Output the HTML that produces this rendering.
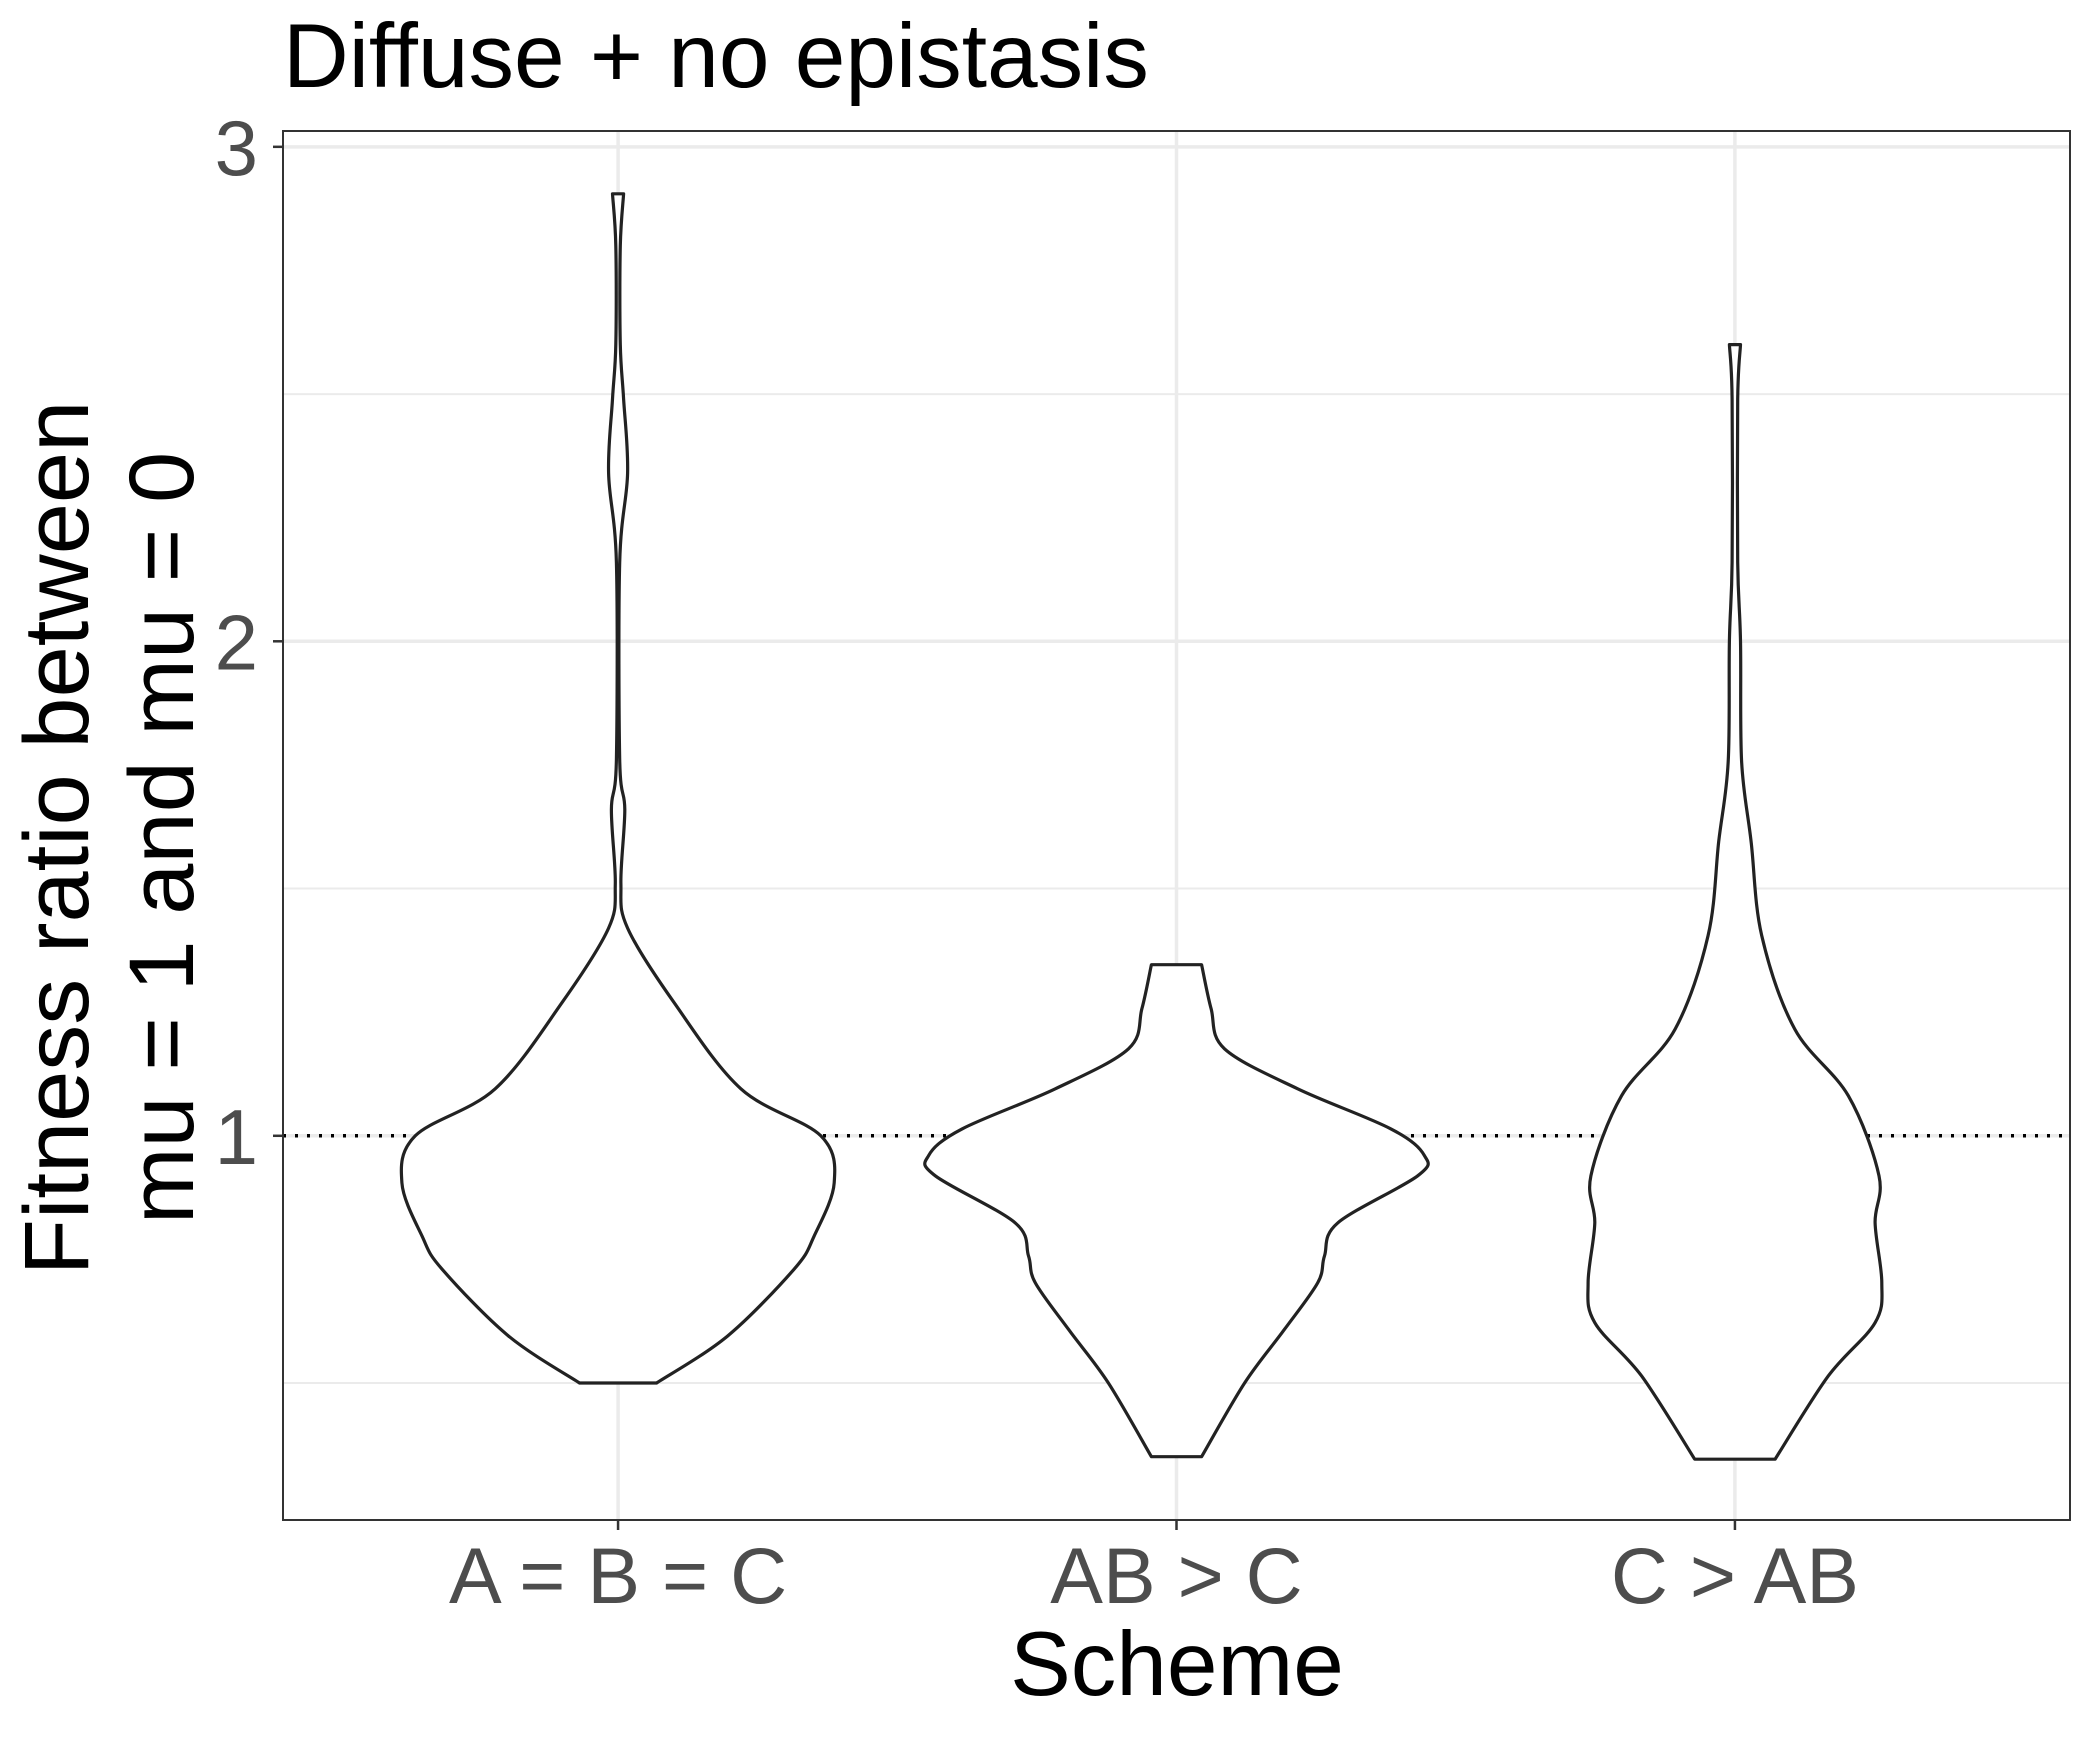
<!DOCTYPE html>
<html><head><meta charset="utf-8"><style>
html,body{margin:0;padding:0;background:#fff}
svg{display:block;font-family:"Liberation Sans",Arial,sans-serif}
</style></head><body>
<svg id="chart" width="2095" height="1737" viewBox="0 0 2095 1737" xmlns="http://www.w3.org/2000/svg">
<rect width="2095" height="1737" fill="#fff"/>
<text x="283" y="87" font-size="91" fill="#000">Diffuse + no epistasis</text>
<g id="grid"></g>
<g id="violins"></g>
<g id="axes"></g>
<text x="1177" y="1695" font-size="91" text-anchor="middle" fill="#000">Scheme</text>
<text transform="translate(88,838) rotate(-90)" font-size="92" text-anchor="middle" fill="#000">Fitness ratio between</text>
<text transform="translate(193,838) rotate(-90)" font-size="92" text-anchor="middle" fill="#000">mu = 1 and mu = 0</text>
</svg>
<script>
const categories = ["A = B = C", "AB > C", "C > AB"];
const yTicks = [1, 2, 3];
const yMinor = [0.5, 1.5, 2.5];
const refLine = 1;
const v1Y = [0.5,0.595,0.73,0.797,0.905,1.0,1.095,1.27,1.42,1.51,1.66,1.76,2.16,2.34,2.49,2.6,2.8,2.905];
const v1W = [0.069,0.196,0.315,0.351,0.387,0.363,0.22,0.1,0.017,0.005,0.012,0.003,0.003,0.017,0.01,0.004,0.004,0.01];
const v2Y = [0.351,0.5,0.608,0.703,0.757,0.824,0.919,0.96,1.014,1.095,1.176,1.257,1.346];
const v2W = [0.045,0.122,0.193,0.253,0.265,0.289,0.432,0.444,0.384,0.217,0.086,0.062,0.045];
const v3Y = [0.346,0.514,0.622,0.703,0.824,0.919,1.081,1.216,1.405,1.595,1.757,2.0,2.16,2.49,2.6];
const v3W = [0.072,0.167,0.251,0.263,0.251,0.258,0.203,0.107,0.048,0.029,0.012,0.01,0.005,0.005,0.01];

const NS="http://www.w3.org/2000/svg";
const L=283,R=2070,T=131,B=1520;
const yMin=0.223,yMax=3.032;
const yS=v=>B-(v-yMin)/(yMax-yMin)*(B-T);
const catStep=(R-L)/(categories.length-1+1.2);
const xS=i=>(L+R)/2+(i-(categories.length-1)/2)*catStep;
const wS=w=>w*catStep;
function mk(tag,attrs,parent){const e=document.createElementNS(NS,tag);for(const k in attrs)e.setAttribute(k,attrs[k]);parent.appendChild(e);return e;}
function smooth(pts){
 let d='M'+pts[0][0].toFixed(1)+','+pts[0][1].toFixed(1);
 for(let i=0;i<pts.length-1;i++){
  const p0=pts[Math.max(0,i-1)],p1=pts[i],p2=pts[i+1],p3=pts[Math.min(pts.length-1,i+2)];
  const c1=[p1[0]+(p2[0]-p0[0])/6,p1[1]+(p2[1]-p0[1])/6];
  const c2=[p2[0]-(p3[0]-p1[0])/6,p2[1]-(p3[1]-p1[1])/6];
  d+=' C'+c1.map(v=>v.toFixed(1)).join(',')+' '+c2.map(v=>v.toFixed(1)).join(',')+' '+p2[0].toFixed(1)+','+p2[1].toFixed(1);
 }
 return d;
}
const grid=document.getElementById('grid'),vg=document.getElementById('violins'),ax=document.getElementById('axes');
yMinor.forEach(v=>{const e=mk('line',{x1:L,x2:R,y1:yS(v),y2:yS(v),stroke:'#ebebeb','stroke-width':2},grid);

});
yTicks.forEach(v=>{const e=mk('line',{x1:L,x2:R,y1:yS(v),y2:yS(v),stroke:'#ebebeb','stroke-width':3.5},grid);

});
categories.forEach((c,i)=>{const e=mk('line',{x1:xS(i),x2:xS(i),y1:T,y2:B,stroke:'#ebebeb','stroke-width':3.5},grid);

});
const rl=mk('line',{x1:L,x2:R,y1:yS(refLine),y2:yS(refLine),stroke:'#000','stroke-width':3.5,'stroke-dasharray':'3 9'},vg);


[[v1Y,v1W],[v2Y,v2W],[v3Y,v3W]].forEach((d,i)=>{
 const [ys,ws]=d;const cx=xS(i);
 const right=ys.map((y,k)=>[cx+wS(ws[k]),yS(y)]);
 const left=ys.map((y,k)=>[cx-wS(ws[k]),yS(y)]).reverse();
 let path=smooth(right)+' L'+left[0][0].toFixed(1)+','+left[0][1].toFixed(1)+' '+smooth(left).slice(1).replace(/^[^C]*/,'')+' Z';
 const p=mk('path',{d:path,fill:'#fff',stroke:'#222','stroke-width':3.2,'stroke-linejoin':'round'},vg);
 
 
});
const fr=mk('rect',{x:L,y:T,width:R-L,height:B-T,fill:'none',stroke:'#333','stroke-width':2},ax);


yTicks.forEach(v=>{
 const t=mk('line',{x1:L-10,x2:L,y1:yS(v),y2:yS(v),stroke:'#333','stroke-width':2.5},ax);
 
 
 const tx=mk('text',{x:L-25,y:yS(v)+28,'font-size':78,'text-anchor':'end',fill:'#4d4d4d'},ax);tx.textContent=v;
 
 
});
categories.forEach((c,i)=>{
 const t=mk('line',{x1:xS(i),x2:xS(i),y1:B,y2:B+10,stroke:'#333','stroke-width':2.5},ax);
 
 
 const tx=mk('text',{x:xS(i),y:1603,'font-size':79,'text-anchor':'middle',fill:'#4d4d4d'},ax);tx.textContent=c;
 
 
});
</script>
</body></html>
